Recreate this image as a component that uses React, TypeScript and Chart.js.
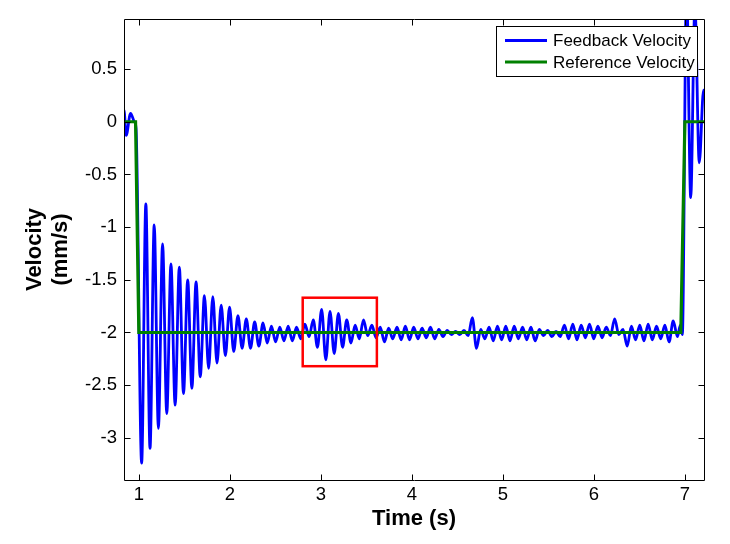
import React, { useEffect, useRef } from "react";
import { Chart, registerables } from "chart.js";

Chart.register(...registerables);

// ---- axis ranges & ticks ----
const xRange = [0.836, 7.21];
const yRange = [-3.4, 0.975];
const xTicks = [1, 2, 3, 4, 5, 6, 7];
const yTicks = [-3, -2.5, -2, -1.5, -1, -0.5, 0, 0.5];

// ---- series names ----
const seriesNames = ["Feedback Velocity", "Reference Velocity"];

// ---- Feedback velocity ----
// lead-in before the step
const fbLeadTimes = [0.82, 0.836, 0.86, 0.908, 0.95, 0.968];
const fbLeadValues = [0.06, 0.11, -0.13, 0.08, 0.0, -0.06];
// successive troughs / peaks of the oscillation, sampled every half period
const fbOscStart = 1.03;
const fbOscStep = 0.046;
const fbOscValues = [
  -3.24, -0.78, -3.1, -0.98, -2.91, -1.16, -2.77, -1.35, -2.69, -1.38,
  -2.58, -1.5, -2.53, -1.52, -2.42, -1.65, -2.34, -1.66, -2.29, -1.74,
  -2.22, -1.76, -2.18, -1.84, -2.15, -1.87, -2.15, -1.9, -2.13, -1.91,
  -2.1, -1.94, -2.09, -1.95, -2.08, -1.94, -2.08, -1.95, -2.06, -1.92,
  -2.04, -1.88, -2.14, -1.78, -2.26, -1.8, -2.2, -1.82, -2.14, -1.88,
  -2.1, -1.93, -2.06, -1.88, -2.03, -1.93, -2.05, -1.95, -2.09, -1.96,
  -2.06, -1.95, -2.07, -1.94, -2.07, -1.95, -2.06, -1.96, -2.05, -1.95,
  -2.06, -1.97, -2.04, -1.98, -2.02, -1.99, -2.02, -1.98, -2.03, -1.86,
  -2.15, -1.97, -2.06, -1.95, -2.08, -1.94, -2.07, -1.94, -2.08, -1.94,
  -2.06, -1.95, -2.07, -1.95, -2.08, -1.97, -2.03, -1.98, -2.04, -1.99,
  -2.04, -1.93, -2.06, -1.92, -2.07, -1.93, -2.05, -1.92, -2.06, -1.94,
  -2.05, -1.95, -2.03, -1.87, -2.02, -1.97, -2.13, -1.94, -2.07, -1.93,
  -2.08, -1.92, -2.07, -1.94, -2.06, -1.93, -2.09, -1.89, -2.04,
];
// step back to zero at the end
const fbTailTimes = [6.95, 6.972, 7.018, 7.064, 7.11, 7.158, 7.205, 7.23];
const fbTailValues = [-1.93, -2.02, 1.3, -0.72, 1.1, -0.39, 0.3, 0.2];

// ---- Reference velocity ----
const refTimes = [0.8, 0.963, 0.999, 6.955, 7.0, 7.3];
const refValues = [0, 0, -2, -2, 0, 0];

// ---- highlighted region (red box) ----
const highlightX = [2.8, 3.615];
const highlightY = [-2.32, -1.67];

const FONT = "'Liberation Sans', Arial, Helvetica, sans-serif";
const BLUE = "#0000ff";
const GREEN = "#008000";

function buildFeedback() {
  const pts: { x: number; y: number }[] = [];
  fbLeadTimes.forEach((t, i) => pts.push({ x: t, y: fbLeadValues[i] }));
  fbOscValues.forEach((v, i) => pts.push({ x: fbOscStart + i * fbOscStep, y: v }));
  fbTailTimes.forEach((t, i) => pts.push({ x: t, y: fbTailValues[i] }));
  return pts;
}

const framePlugin = {
  id: "matlabFrame",
  afterDatasetsDraw(chart: any) {
    const { ctx, chartArea, scales } = chart;
    const xs = scales.x;
    const ys = scales.y;
    ctx.save();

    // red highlight rectangle
    const rx0 = xs.getPixelForValue(highlightX[0]);
    const rx1 = xs.getPixelForValue(highlightX[1]);
    const ry0 = ys.getPixelForValue(highlightY[1]);
    const ry1 = ys.getPixelForValue(highlightY[0]);
    ctx.strokeStyle = "#ff0000";
    ctx.lineWidth = 2.5;
    ctx.strokeRect(rx0, ry0, rx1 - rx0, ry1 - ry0);

    // axes box
    const L = Math.round(chartArea.left) + 0.5;
    const R = Math.round(chartArea.right) + 0.5;
    const T = Math.round(chartArea.top) + 0.5;
    const B = Math.round(chartArea.bottom) + 0.5;
    ctx.strokeStyle = "#000";
    ctx.lineWidth = 1;
    ctx.beginPath();
    ctx.moveTo(L, T);
    ctx.lineTo(R, T);
    ctx.lineTo(R, B);
    ctx.lineTo(L, B);
    ctx.closePath();
    ctx.stroke();

    // inward ticks on all sides
    const tl = 6;
    ctx.beginPath();
    xTicks.forEach((v) => {
      const p = Math.round(xs.getPixelForValue(v)) + 0.5;
      ctx.moveTo(p, B);
      ctx.lineTo(p, B - tl);
      ctx.moveTo(p, T);
      ctx.lineTo(p, T + tl);
    });
    yTicks.forEach((v) => {
      const p = Math.round(ys.getPixelForValue(v)) + 0.5;
      ctx.moveTo(L, p);
      ctx.lineTo(L + tl, p);
      ctx.moveTo(R, p);
      ctx.lineTo(R - tl, p);
    });
    ctx.stroke();

    // legend box
    const bw = 201;
    const bh = 50;
    const bx = Math.round(chartArea.right) - 7 - bw;
    const by = Math.round(chartArea.top) + 7;
    ctx.fillStyle = "#fff";
    ctx.fillRect(bx, by, bw, bh);
    ctx.strokeStyle = "#000";
    ctx.lineWidth = 1;
    ctx.strokeRect(bx + 0.5, by + 0.5, bw, bh);
    const colors = [BLUE, GREEN];
    const rows = [by + 14.5, by + 36];
    ctx.font = `17px ${FONT}`;
    ctx.textBaseline = "middle";
    ctx.textAlign = "left";
    seriesNames.forEach((name, i) => {
      ctx.strokeStyle = colors[i];
      ctx.lineWidth = 3;
      ctx.beginPath();
      ctx.moveTo(bx + 9, rows[i]);
      ctx.lineTo(bx + 51, rows[i]);
      ctx.stroke();
      ctx.fillStyle = "#000";
      ctx.fillText(name, bx + 57, rows[i] + 1);
    });
    ctx.restore();
  },
};

export default function App() {
  const ref = useRef<HTMLCanvasElement | null>(null);
  useEffect(() => {
    if (!ref.current) return;
    const chart = new Chart(ref.current, {
      type: "line",
      data: {
        datasets: [
          {
            label: seriesNames[0],
            data: buildFeedback(),
            borderColor: BLUE,
            borderWidth: 2.8,
            pointRadius: 0,
            cubicInterpolationMode: "monotone",
            fill: false,
            clip: 0,
            order: 2,
          },
          {
            label: seriesNames[1],
            data: refTimes.map((t, i) => ({ x: t, y: refValues[i] })),
            borderColor: GREEN,
            borderWidth: 3.2,
            pointRadius: 0,
            tension: 0,
            fill: false,
            clip: 0,
            order: 1,
          },
        ],
      },
      options: {
        animation: false,
        responsive: false,
        maintainAspectRatio: false,
        layout: { padding: { top: 19, right: 26, bottom: 0, left: 0 } },
        plugins: {
          legend: { display: false },
          tooltip: { enabled: false },
        },
        scales: {
          x: {
            type: "linear",
            min: xRange[0],
            max: xRange[1],
            afterFit: (s: any) => {
              s.height = 64;
            },
            afterBuildTicks: (s: any) => {
              s.ticks = xTicks.map((v) => ({ value: v }));
            },
            grid: { display: false, drawTicks: false },
            border: { display: false },
            ticks: {
              color: "#000",
              padding: 4,
              autoSkip: false,
              maxRotation: 0,
              font: { family: FONT, size: 18.5 },
              callback: (v: any) => String(v),
            },
            title: {
              display: true,
              text: "Time (s)",
              color: "#000",
              font: { family: FONT, size: 22, weight: "bold" },
              padding: { top: 0, bottom: 11.4 },
            },
          },
          y: {
            type: "linear",
            min: yRange[0],
            max: yRange[1],
            afterFit: (s: any) => {
              s.width = 124;
            },
            afterBuildTicks: (s: any) => {
              s.ticks = yTicks.map((v) => ({ value: v }));
            },
            grid: { display: false, drawTicks: false },
            border: { display: false },
            ticks: {
              color: "#000",
              padding: 7,
              autoSkip: false,
              font: { family: FONT, size: 18.5 },
              callback: (v: any) => String(v),
            },
            title: {
              display: true,
              text: ["Velocity", "(mm/s)"],
              color: "#000",
              font: { family: FONT, size: 22, weight: "bold" },
              padding: { top: 21.7, bottom: 0 },
            },
          },
        },
      },
      plugins: [framePlugin],
    } as any);
    return () => chart.destroy();
  }, []);

  return (
    <div style={{ position: "fixed", left: 0, top: 0, width: 730, height: 544, background: "#fff" }}>
      <canvas ref={ref} width={730} height={544} style={{ width: 730, height: 544, display: "block" }} />
    </div>
  );
}
